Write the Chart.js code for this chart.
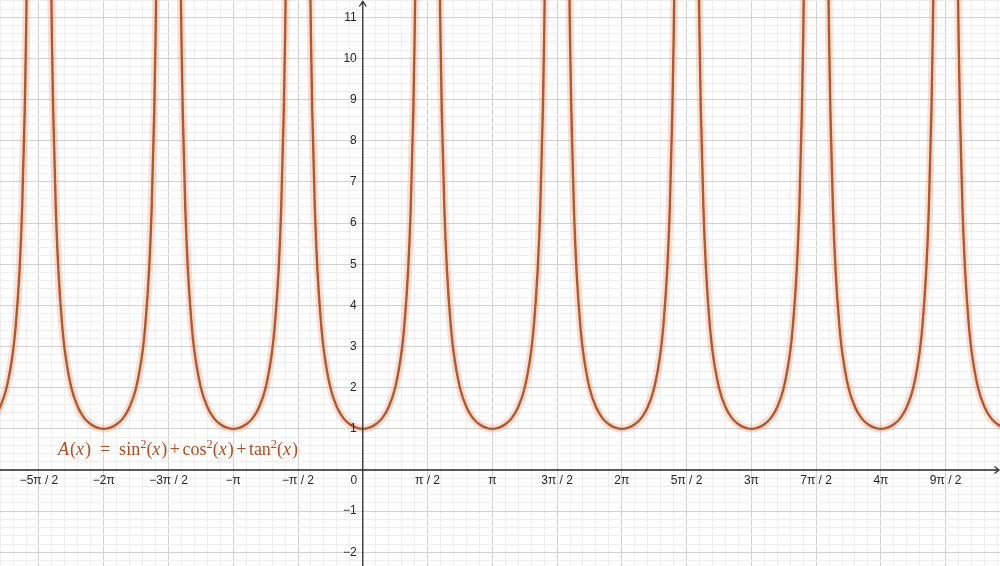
<!DOCTYPE html>
<html>
<head>
<meta charset="utf-8">
<script src="https://cdn.jsdelivr.net/npm/chart.js@4"></script>
<style>
  html, body { margin: 0; padding: 0; background: #fff; }
  #wrap { width: 1000px; height: 566px; }
</style>
</head>
<body>
<div id="wrap"><canvas id="myChart" width="1000" height="566"></canvas></div>
<script>
// x values are in units of pi
const minima = [-3, -2, -1, 0, 1, 2, 3, 4, 5];
// one branch of the curve: offset from the minimum (pi units) -> height
const branchOffsets = [0, 0.05, 0.1, 0.15, 0.2, 0.25, 0.3, 0.32, 0.35, 0.37, 0.39, 0.4, 0.41, 0.42];
const branchHeights = [1, 1.03, 1.11, 1.26, 1.53, 2, 2.89, 3.48, 4.85, 6.34, 8.72, 10.47, 12.85, 16.2];

const xTickSteps = [-2.5, -2, -1.5, -1, -0.5, 0.5, 1, 1.5, 2, 2.5, 3, 3.5, 4, 4.5];
const xTickLabels = ["−5π / 2", "−2π", "−3π / 2", "−π", "−π / 2", "π / 2", "π", "3π / 2", "2π", "5π / 2", "3π", "7π / 2", "4π", "9π / 2"];
const yTickValues = [-2, -1, 1, 2, 3, 4, 5, 6, 7, 8, 9, 10, 11];
const yTickLabels = ["−2", "−1", "1", "2", "3", "4", "5", "6", "7", "8", "9", "10", "11"];

const curveColor = "#b14d1d";

function branch(m) {
  const pts = [];
  for (let i = branchOffsets.length - 1; i > 0; i--) pts.push({ x: m - branchOffsets[i], y: branchHeights[i] });
  for (let i = 0; i < branchOffsets.length; i++) pts.push({ x: m + branchOffsets[i], y: branchHeights[i] });
  return pts;
}

const datasets = [];
minima.forEach(m => {
  datasets.push({
    data: branch(m),
    borderColor: "rgba(215,120,80,0.22)",
    borderWidth: 8,
    pointRadius: 0,
    cubicInterpolationMode: "monotone",
  });
  datasets.push({
    data: branch(m),
    borderColor: curveColor,
    borderWidth: 2.4,
    pointRadius: 0,
    cubicInterpolationMode: "monotone",
  });
});

function minorTicks(min, max, step) {
  const out = [];
  const a = Math.ceil(min / step - 1e-9), b = Math.floor(max / step + 1e-9);
  for (let i = a; i <= b; i++) out.push({ value: i * step, major: i % 5 === 0 });
  return out;
}

const gridColor = ctx => (ctx.tick && ctx.tick.major ? "#d2d2d2" : "#efefef");

const axesPlugin = {
  id: "axes",
  afterDatasetsDraw(chart) {
    const { ctx } = chart;
    const xs = chart.scales.x, ys = chart.scales.y;
    const x0 = xs.getPixelForValue(0), y0 = ys.getPixelForValue(0);
    ctx.save();
    ctx.strokeStyle = "#2b2b2b";
    ctx.lineWidth = 1.3;
    ctx.beginPath();
    ctx.moveTo(0, y0); ctx.lineTo(999, y0);
    ctx.moveTo(x0, 566); ctx.lineTo(x0, 1.5);
    ctx.stroke();
    ctx.beginPath();
    ctx.moveTo(x0 - 3.5, 6.5); ctx.lineTo(x0, 1.5); ctx.lineTo(x0 + 3.5, 6.5);
    ctx.moveTo(994.5, y0 - 3.5); ctx.lineTo(999, y0); ctx.lineTo(994.5, y0 + 3.5);
    ctx.stroke();

    ctx.fillStyle = "#262626";
    ctx.font = "12px 'Liberation Sans', Arial, sans-serif";
    ctx.textAlign = "center";
    ctx.textBaseline = "middle";
    xTickSteps.forEach((v, i) => ctx.fillText(xTickLabels[i], xs.getPixelForValue(v), y0 + 10.5));
    ctx.fillText("0", x0 - 9, y0 + 10.5);
    ctx.textAlign = "right";
    yTickValues.forEach((v, i) => ctx.fillText(yTickLabels[i], x0 - 6, ys.getPixelForValue(v)));
    ctx.restore();

    // formula label
    const parts = [
      ["A", "i"], ["(", "r"], ["x", "i"], [")", "r"], [" = ", "g"],
      ["sin", "r"], ["2", "s"], ["(", "r"], ["x", "i"], [")", "r"], ["+", "p"],
      ["cos", "r"], ["2", "s"], ["(", "r"], ["x", "i"], [")", "r"], ["+", "p"],
      ["tan", "r"], ["2", "s"], ["(", "r"], ["x", "i"], [")", "r"],
    ];
    const fam = "'Liberation Serif', 'DejaVu Serif', serif";
    const fonts = { i: "italic 18px " + fam, r: "18px " + fam, s: "12.5px " + fam, g: "18px " + fam, p: "18px " + fam };
    ctx.save();
    ctx.fillStyle = curveColor;
    ctx.textBaseline = "alphabetic";
    ctx.textAlign = "left";
    let x = 58;
    const base = 455;
    parts.forEach(([t, k]) => {
      ctx.font = fonts[k];
      if (k === "g") { x += 9; ctx.fillText("=", x, base); x += ctx.measureText("=").width + 9; return; }
      if (k === "p") { x += 2.5; ctx.fillText("+", x, base); x += ctx.measureText("+").width + 2.5; return; }
      ctx.fillText(t, x, k === "s" ? base - 7 : base);
      x += ctx.measureText(t).width + (k === "i" ? 1 : 0);
    });
    ctx.restore();
  },
};

new Chart(document.getElementById("myChart").getContext("2d"), {
  type: "line",
  data: { datasets },
  options: {
    responsive: false,
    animation: false,
    layout: { padding: 0 },
    plugins: { legend: { display: false }, tooltip: { enabled: false } },
    scales: {
      x: {
        type: "linear",
        min: -2.8008,
        max: 4.9195,
        afterBuildTicks: s => { s.ticks = minorTicks(s.min, s.max, 0.1); },
        ticks: { display: false },
        grid: { color: gridColor, lineWidth: 1, drawTicks: false },
        border: { display: false },
      },
      y: {
        type: "linear",
        min: -2.333,
        max: 11.42,
        afterBuildTicks: s => { s.ticks = minorTicks(s.min, s.max, 0.2); },
        ticks: { display: false },
        grid: { color: gridColor, lineWidth: 1, drawTicks: false },
        border: { display: false },
      },
    },
  },
  plugins: [axesPlugin],
});
</script>
</body>
</html>
